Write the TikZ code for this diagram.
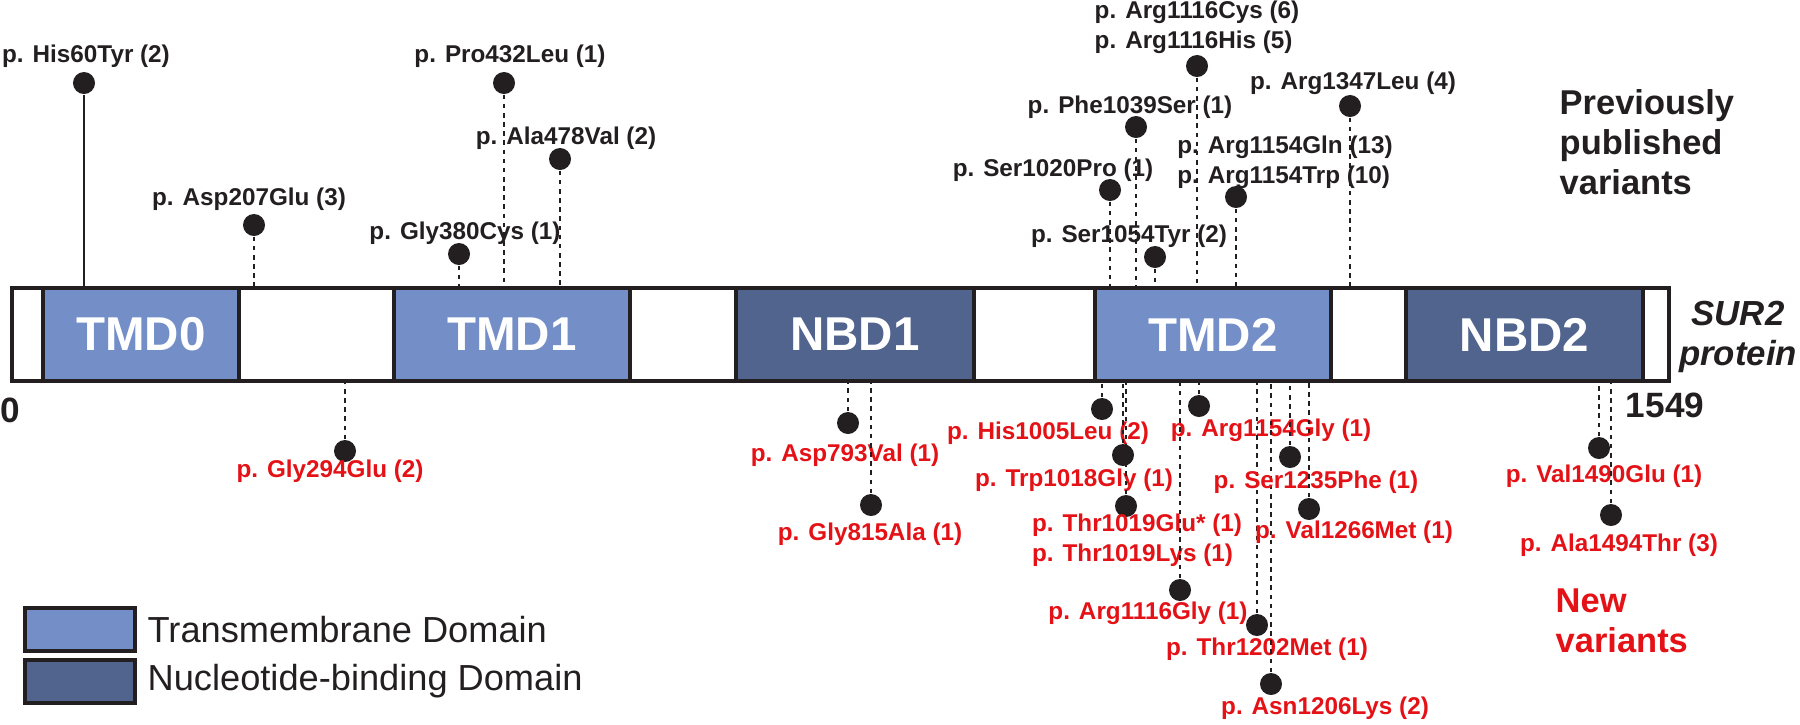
\documentclass[tikz,border=0pt]{standalone}
\usepackage{fontspec}
\setmainfont{Liberation Sans}
\usetikzlibrary{positioning}

\definecolor{tmdblue}{RGB}{116,143,200}
\definecolor{nbdblue}{RGB}{81,100,142}
\definecolor{newred}{RGB}{228,18,22}
\definecolor{ink}{RGB}{35,31,32}

\tikzset{
	domainbox/.style={draw=ink, line width=1.3pt},
	domlabel/.style={text=white, inner sep=0pt, font=\bfseries\fontsize{13.5}{15}\selectfont},
	vdot/.style={circle, fill=ink, inner sep=0pt, minimum size=0.22cm},
	stem/.style={draw=ink, line width=0.6pt, dash pattern=on 1.3pt off 1.3pt},
	oldvar/.style={text=ink, inner sep=0pt, align=left, font=\bfseries\fontsize{6.9}{8.5}\selectfont},
	newvar/.style={oldvar, text=newred},
	bigtext/.style={inner sep=0pt, align=left, font=\bfseries\fontsize{9.8}{11.3}\selectfont},
}

\begin{document}
\begin{tikzpicture}[x=0.01cm, y=-0.01cm]

	\useasboundingbox (0,0) rectangle (1800,724);

	%% PROTEIN BAR
	% Main
	\draw [domainbox, fill=white] (12,288) rectangle (1669,381);
	\coordinate (bartop) at (0,288);
	\coordinate (barbot) at (0,381);

	% Domains
	\foreach \a/\b/\col/\nm in {43/239/tmdblue/TMD0, 394/630/tmdblue/TMD1, 736/974/nbdblue/NBD1, 1095/1331/tmdblue/TMD2, 1406/1643/nbdblue/NBD2}
	{
		\draw [domainbox, fill=\col] (\a,288) rectangle (\b,381);
		\node [domlabel] (\nm) at ({(\a+\b)/2},334.5) {\nm};
	}

	% Redraw Main Rectangle
	\draw [domainbox] (12,288) rectangle (1669,381);

	% Ends
	\node [inner sep=0pt, text=ink, font=\bfseries\fontsize{10}{12}\selectfont] (first) at (10,410) {0};
	\node [inner sep=0pt, text=ink, font=\bfseries\fontsize{10}{12}\selectfont] (last) at (1665,405) {1549};
	\node [inner sep=0pt, text=ink, align=center, font=\bfseries\itshape\fontsize{9.9}{11.4}\selectfont] (sur) at (1738,337) {SUR2\\protein};


	%% PREVIOUSLY PUBLISHED VARIANTS
	\node [vdot] (p60) at (84,83) {};
	\draw [ink, line width=0.6pt] (p60.south) -- (p60.south |- bartop);
	\node [oldvar] (lp60) at (86,56) {p. His60Tyr (2)};

	\foreach \n/\x/\y/\lx/\ly/\txt in {
		207/254/225/249/199/{p. Asp207Glu (3)},
		380/459/254/465/233/{p. Gly380Cys (1)},
		432/504/83/510/56/{p. Pro432Leu (1)},
		478/560/159/566/138/{p. Ala478Val (2)},
		1020/1110/190/1053/170/{p. Ser1020Pro (1)},
		1039/1136/127/1130/107/{p. Phe1039Ser (1)},
		1054/1155/257/1129/236/{p. Ser1054Tyr (2)},
		1116/1197/66/1197/27/{p. Arg1116Cys (6)\\p. Arg1116His (5)},
		1154/1236/197/1285/162/{p. Arg1154Gln (13)\\p. Arg1154Trp (10)},
		1347/1350/106/1353/83/{p. Arg1347Leu (4)}}
	{
		\node [vdot] (p\n) at (\x,\y) {};
		\draw [stem] (p\n.south) -- (p\n.south |- bartop);
		\node [oldvar] (lp\n) at (\lx,\ly) {\txt};
	}

	\node [bigtext, anchor=west, text=ink] (pubtitle) at (1559,142) {Previously\\published\\variants};


	%% NEW VARIANTS
	\foreach \n/\x/\y/\lx/\ly/\txt in {
		294/345/451/330/471/{p. Gly294Glu (2)},
		793/848/423/845/455/{p. Asp793Val (1)},
		815/871/505/870/534/{p. Gly815Ala (1)},
		1005/1102/409/1048/433/{p. His1005Leu (2)},
		1018/1123/455/1074/480/{p. Trp1018Gly (1)},
		1019/1126/506/1137/540/{p. Thr1019Glu* (1)\\p. Thr1019Lys (1)},
		1116/1180/590/1148/613/{p. Arg1116Gly (1)},
		1154/1199/406/1271/430/{p. Arg1154Gly (1)},
		1202/1257/625/1267/649/{p. Thr1202Met (1)},
		1206/1271/684/1325/708/{p. Asn1206Lys (2)},
		1235/1290/457/1316/482/{p. Ser1235Phe (1)},
		1266/1309/509/1354/532/{p. Val1266Met (1)},
		1490/1599/448/1604/476/{p. Val1490Glu (1)},
		1494/1611/515/1619/545/{p. Ala1494Thr (3)}}
	{
		\node [vdot] (n\n) at (\x,\y) {};
		\draw [stem] (n\n.north) -- (n\n.north |- barbot);
		\node [newvar] (ln\n) at (\lx,\ly) {\txt};
	}

	\node [bigtext, anchor=west, text=newred] (newtitle) at (1555,621) {New\\variants};


	%% LEGEND
	\draw [domainbox, fill=tmdblue] (25,608) rectangle (135,651);
	\draw [domainbox, fill=nbdblue] (25,660) rectangle (135,703);
	\node [anchor=west, inner sep=0pt, text=ink, font=\fontsize{10.3}{12}\selectfont] (tmleg) at (147,630) {Transmembrane Domain};
	\node [anchor=west, inner sep=0pt, text=ink, font=\fontsize{10.3}{12}\selectfont] (nbleg) at (147,681) {Nucleotide-binding Domain};

\end{tikzpicture}
\end{document}
